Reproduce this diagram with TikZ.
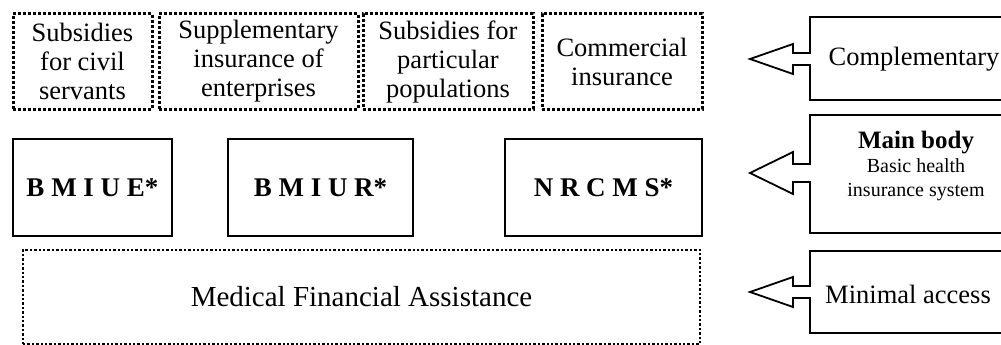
\documentclass[tikz,border=0pt]{standalone}
\usepackage{fontspec}
\setmainfont{Liberation Serif}
\usetikzlibrary{calc}

\begin{document}
\begin{tikzpicture}[x=1pt,y=-1pt,
    dotbox/.style={draw, line width=3pt, dash pattern=on 3pt off 2pt, align=center, inner sep=0pt,
        font=\fontsize{26.5}{29}\selectfont},
    bodybox/.style={draw, line width=2.6pt, inner sep=0pt, minimum height=97pt,
        font=\fontsize{27}{29}\selectfont\bfseries},
    calloutline/.style={draw, line width=1.8pt, line join=miter},
    callouttext/.style={align=center, inner sep=0pt, font=\fontsize{26.5}{30}\selectfont}]
            \useasboundingbox (0,0) rectangle (1001,345);
            \clip (0,0) rectangle (1001,345);
            % complementary layer
            \node[dotbox, minimum width=139pt, minimum height=95pt] (civil) at (82.5,61.5) {Subsidies\\for civil\\servants};
            \node[dotbox, minimum width=199pt, minimum height=95pt] (enterp) at (258.5,61.5) {Supplementary\\insurance of\\enterprises};
            \node[dotbox, minimum width=170pt, minimum height=95pt] (popul) at (448,61.5) {Subsidies for\\particular\\populations};
            \node[dotbox, minimum width=160pt, minimum height=95pt] (comm) at (622,61.5) {Commercial\\insurance};
            % main body
            \node[bodybox, minimum width=159pt] (bmiue) at (92.5,187.5) {B M I U E*};
            \node[bodybox, minimum width=185pt] (bmiur) at (320.5,187.5) {B M I U R*};
            \node[bodybox, minimum width=197pt] (nrcms) at (603.5,187.5) {N R C M S*};
            % minimal access
            \node[dotbox, line width=2.4pt, dash pattern=on 2.4pt off 2pt, minimum width=677pt, minimum height=94pt,
                font=\fontsize{29}{32}\selectfont] (mfa) at (361.5,297) {Medical Financial Assistance};
            % callouts on the right
            \draw[calloutline] (1020,17) -- (810,17) -- (810,53) -- (793,53) -- (793,44) -- (750,59)
                -- (793,74) -- (793,65) -- (810,65) -- (810,100) -- (1020,100);
            \draw[calloutline] (1020,115) -- (810,115) -- (810,164) -- (793,164) -- (793,152) -- (750,173)
                -- (793,194) -- (793,182) -- (810,182) -- (810,233) -- (1020,233);
            \draw[calloutline] (1020,251) -- (810,251) -- (810,286) -- (793,286) -- (793,277) -- (750,292)
                -- (793,307) -- (793,298) -- (810,298) -- (810,333) -- (1020,333);
            \node[callouttext] (compl) at (914,59) {Complementary};
            \node[callouttext, font=\fontsize{20}{24}\selectfont] (mainb) at (916,166)
                {{\fontsize{25}{24}\selectfont\bfseries Main body}\\Basic health\\insurance system};
            \node[callouttext] (minacc) at (908,294) {Minimal access};
        \end{tikzpicture}
\end{document}
